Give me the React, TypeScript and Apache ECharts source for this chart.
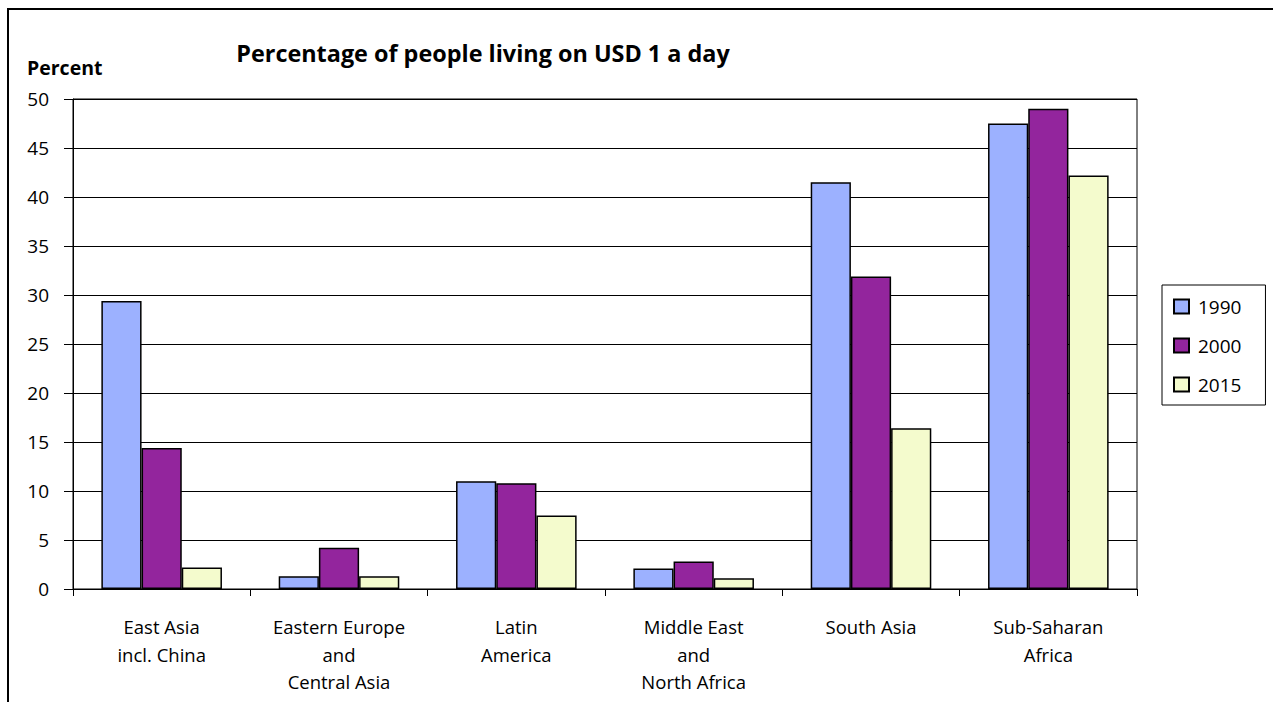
import React, { useEffect, useRef } from "react";
import * as echarts from "echarts";

const categories = [
  "East Asia\nincl. China",
  "Eastern Europe\nand\nCentral Asia",
  "Latin\nAmerica",
  "Middle East\nand\nNorth Africa",
  "South Asia",
  "Sub-Saharan\nAfrica",
];
const seriesNames = ["1990", "2000", "2015"];
const values1990 = [29.4, 1.3, 11.0, 2.1, 41.5, 47.5];
const values2000 = [14.4, 4.2, 10.8, 2.8, 31.9, 49.0];
const values2015 = [2.2, 1.3, 7.5, 1.1, 16.4, 42.2];
const colors = ["#9cb1ff", "#93259d", "#f4fbcd"];

const FONT = "Open Sans";

export default function App() {
  const ref = useRef<HTMLDivElement>(null);
  useEffect(() => {
    if (!ref.current) return;
    const chart = echarts.init(ref.current, undefined, { renderer: "svg" });
    const data = [values1990, values2000, values2015];
    chart.setOption({
      animation: false,
      textStyle: { fontFamily: FONT },
      grid: {
        left: 73,
        top: 99,
        right: 136,
        bottom: 113,
        show: true,
        borderColor: "#000",
        borderWidth: 1,
      },
      graphic: [
        {
          type: "rect",
          shape: { x: 8, y: 9, width: 1300, height: 800 },
          style: { fill: "none", stroke: "#000", lineWidth: 2 },
          silent: true,
        },
        {
          type: "text",
          x: 483,
          y: 53,
          style: {
            text: "Percentage of people living on USD 1 a day",
            font: `bold 23.4px "${FONT}"`,
            fill: "#000",
            textAlign: "center",
            textVerticalAlign: "middle",
          },
        },
        {
          type: "text",
          x: 27,
          y: 67,
          style: {
            text: "Percent",
            font: `bold 19.5px "${FONT}"`,
            fill: "#000",
            textAlign: "left",
            textVerticalAlign: "middle",
          },
        },
      ],
      legend: {
        orient: "vertical",
        left: 1162,
        top: 285,
        data: seriesNames,
        icon: "rect",
        itemWidth: 15,
        itemHeight: 14,
        itemGap: 20,
        padding: [12, 24, 11, 11],
        borderColor: "#000",
        borderWidth: 1,
        textStyle: {
          fontSize: 19,
          color: "#000",
          fontFamily: FONT,
          padding: [0, 0, 0, 4],
        },
      },
      xAxis: {
        type: "category",
        data: categories,
        axisLine: { lineStyle: { color: "#000", width: 1 } },
        axisTick: { show: true, length: 7, lineStyle: { color: "#000" } },
        axisLabel: {
          interval: 0,
          margin: 24,
          fontSize: 18.5,
          lineHeight: 27.5,
          color: "#000",
          fontFamily: FONT,
        },
      },
      yAxis: {
        type: "value",
        min: 0,
        max: 50,
        interval: 5,
        axisLine: { show: true, lineStyle: { color: "#000", width: 1 } },
        axisTick: { show: true, length: 9, lineStyle: { color: "#000" } },
        axisLabel: { margin: 24, fontSize: 19, color: "#000", fontFamily: FONT },
        splitLine: { show: true, lineStyle: { color: "#000", width: 1 } },
      },
      series: seriesNames.map((name, i) => ({
        name,
        type: "bar",
        data: data[i],
        barGap: "0%",
        barCategoryGap: "32%",
        itemStyle: { color: colors[i], borderColor: "#000", borderWidth: 1.5 },
      })),
    });
    return () => chart.dispose();
  }, []);
  return (
    <div
      ref={ref}
      style={{ position: "absolute", left: 0, top: 0, width: 1273, height: 702 }}
    />
  );
}
